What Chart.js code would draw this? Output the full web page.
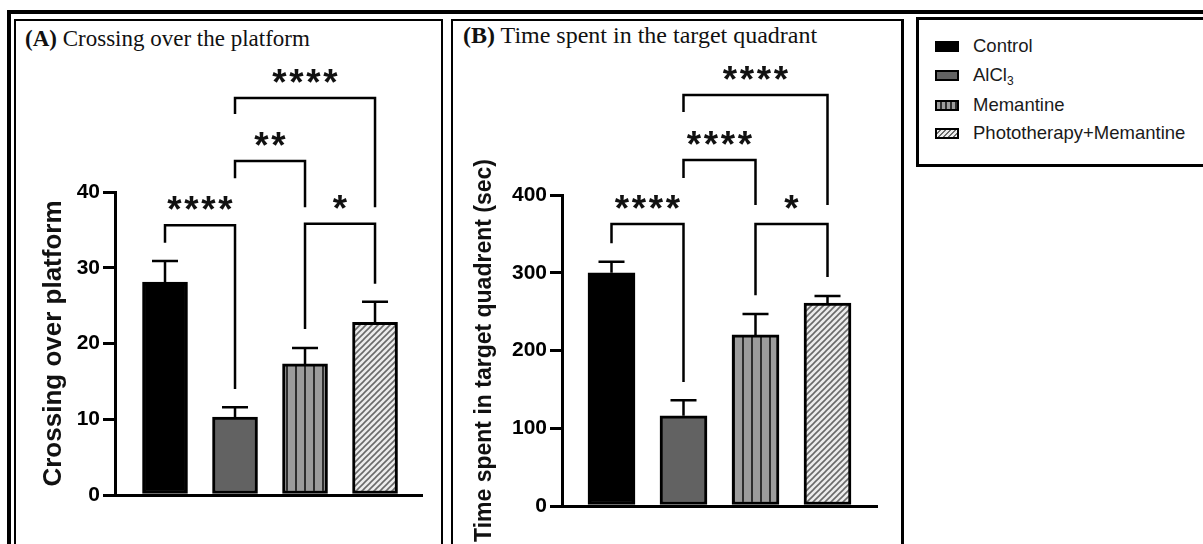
<!DOCTYPE html>
<html>
<head>
<meta charset="utf-8">
<script src="https://cdn.jsdelivr.net/npm/chart.js@4.4.0/dist/chart.umd.min.js"></script>
<style>
html,body{margin:0;padding:0;background:#fff;}
body{width:1203px;height:544px;overflow:hidden;position:relative;font-family:"Liberation Sans",Arial,sans-serif;}
.box{position:absolute;box-sizing:border-box;border:solid #000;}
.ptitle{position:absolute;font-family:"Liberation Serif","Times New Roman",serif;line-height:24px;color:#111;white-space:nowrap;}
.ptitle b{font-weight:bold;}
canvas{position:absolute;}
.leg{position:absolute;left:935px;font-size:18.5px;line-height:20px;color:#1a1a1a;white-space:nowrap;}
.sw{position:absolute;left:0;top:0;width:24px;height:11px;box-sizing:border-box;border:2px solid #000;}
.lt{position:absolute;left:38px;top:-5px;}
.lt sub{font-size:12px;vertical-align:-4px;}
</style>
</head>
<body>
<div class="box" style="left:7px;top:10px;width:1230px;height:600px;border-width:4px 0 0 4px;"></div>
<div class="box" style="left:14px;top:19px;width:429px;height:560px;border-width:2px;"></div>
<div class="box" style="left:451px;top:19px;width:453px;height:560px;border-width:2px 3px 2px 2px;"></div>
<div class="box" style="left:916px;top:17px;width:300px;height:150px;border-width:3px;"></div>

<div class="ptitle" style="left:25px;top:27px;font-size:23px;"><b>(A)</b> Crossing over the platform</div>
<div class="ptitle" style="left:463px;top:23px;font-size:24px;"><b>(B)</b> Time spent in the target quadrant</div>

<canvas id="cA" width="424" height="523" style="left:16px;top:21px;"></canvas>
<canvas id="cB" width="448" height="523" style="left:454px;top:21px;"></canvas>

<div id="legend"></div>

<script>
// ---------------- data ----------------
const groups = ['Control', 'AlCl3', 'Memantine', 'Phototherapy+Memantine'];

const crossingMean = [28.1, 10.3, 17.3, 22.8];
const crossingSem  = [2.8, 1.3, 2.1, 2.7];
const crossingTicks = [0, 10, 20, 30, 40];

const timeMean = [300, 116, 220, 261];
const timeSem  = [14, 20, 27, 9];
const timeTicks = [0, 100, 200, 300, 400];

// significance brackets: group indices, label, bracket height, left/right leg ends (data units)
const crossingBrackets = [
  {from: 0, to: 1, label: '****', y: 35.6, yFrom: 33.3, yTo: 14.0},
  {from: 2, to: 3, label: '*',    y: 35.8, yFrom: 21.9, yTo: 27.9},
  {from: 1, to: 2, label: '**',   y: 44.1, yFrom: 41.8, yTo: 38.0},
  {from: 1, to: 3, label: '****', y: 52.4, yFrom: 50.3, yTo: 38.0}
];
const timeBrackets = [
  {from: 0, to: 1, label: '****', y: 362.7, yFrom: 338, yTo: 159.5},
  {from: 2, to: 3, label: '*',    y: 362.7, yFrom: 271, yTo: 294.5},
  {from: 1, to: 2, label: '****', y: 445,   yFrom: 422, yTo: 387},
  {from: 1, to: 3, label: '****', y: 528.6, yFrom: 506.8, yTo: 387}
];

// ---------------- styles ----------------
function stripePattern() {
  const c = document.createElement('canvas'); c.width = 9; c.height = 4;
  const g = c.getContext('2d');
  g.fillStyle = '#9c9c9c'; g.fillRect(0, 0, 9, 4);
  g.fillStyle = '#2e2e2e'; g.fillRect(0, 0, 2, 4);
  return g.createPattern(c, 'repeat');
}
function hatchPattern() {
  const s = 6;
  const c = document.createElement('canvas'); c.width = s; c.height = s;
  const g = c.getContext('2d');
  g.fillStyle = '#ececec'; g.fillRect(0, 0, s, s);
  g.strokeStyle = '#6a6a6a'; g.lineWidth = 1.6;
  g.beginPath();
  g.moveTo(-1, s + 1); g.lineTo(s + 1, -1);
  g.moveTo(-1, 1); g.lineTo(1, -1);
  g.moveTo(s - 1, s + 1); g.lineTo(s + 1, s - 1);
  g.stroke();
  return g.createPattern(c, 'repeat');
}
const fills = ['#000000', '#626262', stripePattern(), hatchPattern()];

// ---------------- legend (HTML) ----------------
const swatchCss = [
  'background:#000;',
  'background:#626262;',
  'background:repeating-linear-gradient(90deg,#9c9c9c 0 3px,#2e2e2e 3px 5px);',
  'background:repeating-linear-gradient(-45deg,#ececec 0 2px,#6a6a6a 2px 3.5px);'
];
const legendTops = [41, 70, 100, 128];
const legendEl = document.getElementById('legend');
groups.forEach((g, i) => {
  const d = document.createElement('div');
  d.className = 'leg';
  d.style.top = legendTops[i] + 'px';
  const label = g === 'AlCl3' ? 'AlCl<sub>3</sub>' : g;
  d.innerHTML = '<div class="sw" style="' + swatchCss[i] + '"></div><div class="lt">' + label + '</div>';
  legendEl.appendChild(d);
});

// ---------------- annotation plugin ----------------
function makeAnnot(means, sems, brackets, capHalf) {
  return {
    id: 'annot',
    afterDatasetsDraw(chart) {
      const ctx = chart.ctx, xs = chart.scales.x, ys = chart.scales.y;
      ctx.save();
      ctx.strokeStyle = '#000';
      ctx.lineWidth = 2.5;
      means.forEach((m, i) => {
        const x = xs.getPixelForValue(i + 1);
        const y0 = ys.getPixelForValue(m);
        const y1 = ys.getPixelForValue(m + sems[i]);
        ctx.beginPath();
        ctx.moveTo(x, y0); ctx.lineTo(x, y1);
        ctx.moveTo(x - capHalf, y1); ctx.lineTo(x + capHalf, y1);
        ctx.stroke();
      });
      ctx.font = 'bold 100px "Liberation Sans", Arial';
      const m100 = ctx.measureText('*');
      const h100 = m100.actualBoundingBoxAscent + m100.actualBoundingBoxDescent;
      const fs = 14 * 100 / h100;
      ctx.font = 'bold ' + fs.toFixed(1) + 'px "Liberation Sans", Arial';
      const ms = ctx.measureText('*');
      const off = (ms.actualBoundingBoxAscent - ms.actualBoundingBoxDescent) / 2;
      ctx.fillStyle = '#111';
      ctx.textAlign = 'center';
      ctx.textBaseline = 'alphabetic';
      brackets.forEach(b => {
        const xa = xs.getPixelForValue(b.from + 1), xb = xs.getPixelForValue(b.to + 1);
        const y = ys.getPixelForValue(b.y);
        ctx.beginPath();
        ctx.moveTo(xa, ys.getPixelForValue(b.yFrom));
        ctx.lineTo(xa, y); ctx.lineTo(xb, y);
        ctx.lineTo(xb, ys.getPixelForValue(b.yTo));
        ctx.stroke();
        const cx = (xa + xb) / 2, cy = y - 22, n = b.label.length, sp = 17;
        for (let k = 0; k < n; k++) {
          ctx.fillText(b.label[k], cx + (k - (n - 1) / 2) * sp, cy + off);
        }
      });
      ctx.restore();
    }
  };
}

// ---------------- chart factory ----------------
function makeChart(id, means, sems, ticks, brackets, cfg) {
  const data = means.map((v, i) => ({x: i + 1, y: v}));
  return new Chart(document.getElementById(id), {
    type: 'bar',
    data: {
      datasets: [{
        label: cfg.title,
        data: data,
        backgroundColor: fills,
        borderColor: '#000',
        borderWidth: 3,
        borderSkipped: false,
        barThickness: cfg.barW
      }]
    },
    options: {
      responsive: false,
      maintainAspectRatio: false,
      animation: false,
      events: [],
      layout: {padding: cfg.pad},
      plugins: {legend: {display: false}, tooltip: {enabled: false}, title: {display: false}},
      scales: {
        x: {
          type: 'linear',
          offset: false,
          bounds: 'data',
          min: cfg.xMin, max: cfg.xMax,
          ticks: {display: false},
          grid: {display: true, offset: false, drawOnChartArea: false, drawTicks: false},
          border: {display: true, color: '#000', width: 3},
          afterFit(s) { s.height = 0; }
        },
        y: {
          min: ticks[0], max: ticks[ticks.length - 1],
          afterBuildTicks(s) { s.ticks = ticks.map(v => ({value: v})); },
          ticks: {
            color: '#000', padding: 3,
            font: {family: '"Liberation Sans", Arial', size: 21, weight: 'bold'}
          },
          grid: {display: true, drawOnChartArea: false, drawTicks: true, tickLength: 12, color: '#000', lineWidth: 3},
          border: {display: true, color: '#000', width: 3},
          title: {
            display: true, text: cfg.title, color: '#111', padding: {top: 0, bottom: 0},
            font: {family: '"Liberation Sans", Arial', size: cfg.titleSize, weight: 'bold'}
          },
          afterFit(s) { s.width = cfg.yW; }
        }
      }
    },
    plugins: [makeAnnot(means, sems, brackets, 13)]
  });
}

makeChart('cA', crossingMean, crossingSem, crossingTicks, crossingBrackets, {
  title: 'Crossing over platform', titleSize: 26, barW: 45, xMin: 0.2857, xMax: 4.671,
  pad: {left: 22, right: 18, top: 171, bottom: 49}, yW: 77
});
makeChart('cB', timeMean, timeSem, timeTicks, timeBrackets, {
  title: 'Time spent in target quadrent (sec)', titleSize: 23, barW: 47, xMin: 0.3125, xMax: 4.6875,
  pad: {left: 17, right: 25, top: 174, bottom: 38}, yW: 91
});
</script>
</body>
</html>
